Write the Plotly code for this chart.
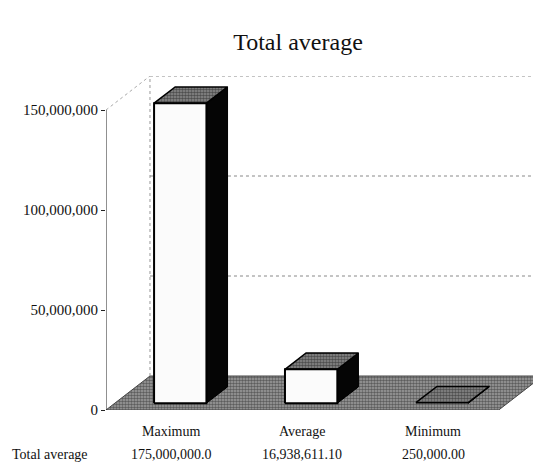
import plotly.graph_objects as go

# ---- data ----
categories = ["Maximum", "Average", "Minimum"]
values = [175000000.0, 16938611.10, 250000.00]
table_row_label = "Total average"
table_text = ["175,000,000.0", "16,938,611.10", "250,000.00"]
tick_values = [0, 50000000, 100000000, 150000000]
tick_labels = ["0", "50,000,000", "100,000,000", "150,000,000"]
chart_title = "Total average"

# ---- 3D-look styling constants ----
AXIS_MAX = 150000000.0        # value axis maximum (bars are clipped here)
DX = 0.336                    # depth offset in category units
DY = 17000000.0               # depth offset in value units
F_IN, B_IN = 0.2, 0.68        # bar front/back position within the depth
BAR_W = 0.4
FONT = "Liberation Serif, Times New Roman, serif"

# page offset of the plot (browser body margin is 8px)
FIG_W, FIG_H = 535, 460
ML, MR, MT, MB = 98, 10, 68, 58
PLOT_W = FIG_W - ML - MR
PLOT_H = FIG_H - MT - MB
PX_PER_CAT = 130.9
PX_PER_VAL = 2.0 / 1000000
PLOT_BOTTOM_PAGE = 8 + FIG_H - MB

fig = go.Figure()


def poly(xs, ys, fill, line_color, width=1, dash=None):
    fig.add_trace(go.Scatter(
        x=list(xs) + [xs[0]], y=list(ys) + [ys[0]], mode="lines",
        fill="toself", fillcolor=fill,
        line=dict(color=line_color, width=width, dash=dash),
        hoverinfo="skip", showlegend=False))


def line(xs, ys, color="#777", width=1, dash="dot"):
    fig.add_trace(go.Scatter(
        x=xs, y=ys, mode="lines", line=dict(color=color, width=width, dash=dash),
        hoverinfo="skip", showlegend=False))


n = len(categories)
x_left, x_right = -0.5, n - 0.5

# floor
fig.add_trace(go.Scatter(
    x=[x_left, x_right, x_right + DX, x_left + DX, x_left],
    y=[0, 0, DY, DY, 0], mode="lines", fill="toself",
    fillcolor="#7e7e7e",
    fillpattern=dict(shape=".", fgcolor="#1a1a1a", bgcolor="#a0a0a0", size=3, solidity=0.55),
    line=dict(color="#444", width=1), hoverinfo="skip", showlegend=False))

# back wall edges and gridlines
line([x_left + DX, x_left + DX], [DY, AXIS_MAX + DY], color="#999")
line([x_left + DX, x_right + DX], [AXIS_MAX + DY, AXIS_MAX + DY], color="#888")
line([x_left, x_left + DX], [AXIS_MAX, AXIS_MAX + DY], color="#aaa")
for tv in tick_values[1:-1]:
    line([x_left + DX, x_right + DX], [tv + DY, tv + DY], color="#888")

# bars
for i, v in enumerate(values):
    h = min(v, AXIS_MAX)
    x0, x1 = i - BAR_W / 2, i + BAR_W / 2
    fx, fy = F_IN * DX, F_IN * DY
    bx, by = B_IN * DX, B_IN * DY
    # side face
    poly([x1 + fx, x1 + bx, x1 + bx, x1 + fx], [fy, by, h + by, h + fy], "#050505", "#000")
    # top face
    fig.add_trace(go.Scatter(
        x=[x0 + fx, x1 + fx, x1 + bx, x0 + bx, x0 + fx],
        y=[h + fy, h + fy, h + by, h + by, h + fy], mode="lines", fill="toself",
        fillcolor="#555555",
        fillpattern=dict(shape=".", fgcolor="#0e0e0e", bgcolor="#8e8e8e", size=3, solidity=0.6),
        line=dict(color="#000", width=1.5), hoverinfo="skip", showlegend=False))
    # front face
    if h > AXIS_MAX * 0.01:
        poly([x0 + fx, x1 + fx, x1 + fx, x0 + fx], [fy, fy, h + fy, h + fy], "#fbfbfb", "#000", width=2)

# front value axis line
line([x_left, x_left], [0, AXIS_MAX], color="#222", width=1, dash="solid")

# category labels and data table (paper y below the plot)
y_cat = -(431 - PLOT_BOTTOM_PAGE) / PLOT_H
y_row = -(454 - PLOT_BOTTOM_PAGE) / PLOT_H
annots = []
for i, c in enumerate(categories):
    annots.append(dict(x=i, y=y_cat, xref="x", yref="paper", text=c, showarrow=False,
                       yanchor="middle", font=dict(family=FONT, size=14, color="#111")))
    annots.append(dict(x=i, y=y_row, xref="x", yref="paper", text=table_text[i], showarrow=False,
                       yanchor="middle", font=dict(family=FONT, size=14, color="#111")))
annots.append(dict(x=(2 - ML) / PLOT_W, y=y_row, xref="paper", yref="paper", text=table_row_label,
                   showarrow=False, xanchor="left", yanchor="middle",
                   font=dict(family=FONT, size=14, color="#111")))

fig.update_layout(
    width=FIG_W, height=FIG_H,
    margin=dict(l=ML, r=MR, t=MT, b=MB),
    paper_bgcolor="white", plot_bgcolor="white",
    title=dict(text=chart_title, x=290 / FIG_W, xanchor="center", y=1 - 34 / FIG_H, yanchor="middle",
               font=dict(family=FONT, size=24, color="#111")),
    xaxis=dict(range=[x_left, x_left + PLOT_W / PX_PER_CAT], visible=False, fixedrange=True),
    yaxis=dict(range=[0, PLOT_H / PX_PER_VAL], tickvals=tick_values, ticktext=tick_labels,
               ticks="outside", ticklen=4, tickcolor="#222", showgrid=False, zeroline=False,
               showline=False, tickfont=dict(family=FONT, size=15, color="#111"), fixedrange=True),
    annotations=annots,
    showlegend=False,
)

fig.write_html("out.html")
